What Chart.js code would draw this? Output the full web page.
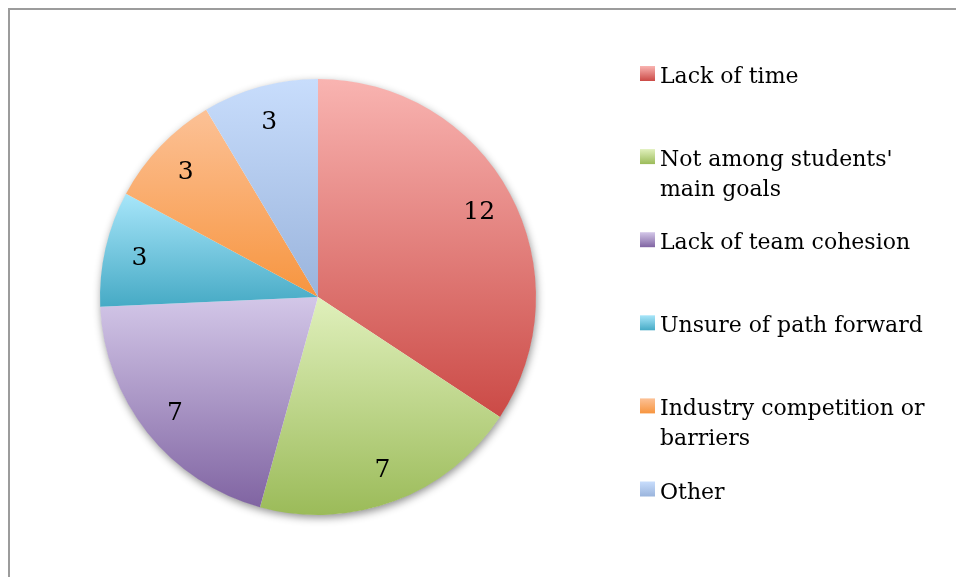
<!DOCTYPE html>
<html><head><meta charset="utf-8">
<script src="https://cdn.jsdelivr.net/npm/chart.js@4"></script>
<style>html,body{margin:0;padding:0;background:#fff}#wrap{position:relative;width:956px;height:577px}</style>
</head><body><div id="wrap"><canvas id="c"></canvas></div>
<script>
const categories = ['Lack of time', ["Not among students'", 'main goals'], 'Lack of team cohesion', 'Unsure of path forward', ['Industry competition or', 'barriers'], 'Other'];
const counts = [12, 7, 7, 3, 3, 3];
const topColors = ['#f9b4b1', '#e0f0bc', '#d3c7e8', '#a8e6fa', '#fcc196', '#c8ddfc'];
const bottomColors = ['#cb4a46', '#9bbb59', '#8064a2', '#46aac5', '#f7953f', '#9ab4dc'];

const FONT = '"DejaVu Serif", "Liberation Serif", serif';

function sliceGradient(ctx) {
  const chart = ctx.chart, area = chart.chartArea, i = ctx.dataIndex;
  if (!area || i === undefined) return bottomColors[i || 0];
  const data = chart.data.datasets[0].data;
  const total = data.reduce((a, b) => a + b, 0);
  let before = 0;
  for (let k = 0; k < i; k++) before += data[k];
  const a0 = -Math.PI / 2 + before / total * 2 * Math.PI;
  const a1 = a0 + data[i] / total * 2 * Math.PI;
  const cx = (area.left + area.right) / 2, cy = (area.top + area.bottom) / 2;
  const r = Math.min(area.right - area.left, area.bottom - area.top) / 2;
  const ys = [cy, cy + r * Math.sin(a0), cy + r * Math.sin(a1)];
  for (const ext of [-Math.PI / 2, Math.PI / 2, 3 * Math.PI / 2]) if (ext >= a0 && ext <= a1) ys.push(cy + r * Math.sin(ext));
  const y0 = Math.min(...ys), y1 = Math.max(...ys);
  const g = chart.ctx.createLinearGradient(0, y0, 0, y1);
  g.addColorStop(0, topColors[i]);
  g.addColorStop(1, bottomColors[i]);
  return g;
}

const framePlugin = {
  id: 'frame',
  beforeDraw(chart) {
    const c = chart.ctx;
    c.save();
    c.fillStyle = '#fff';
    c.fillRect(0, 0, chart.width, chart.height);
    c.strokeStyle = '#9c9c9c';
    c.lineWidth = 2;
    c.beginPath();
    c.moveTo(9, chart.height + 2);
    c.lineTo(9, 9);
    c.lineTo(chart.width + 2, 9);
    c.stroke();
    c.restore();
  }
};

const shadowPlugin = {
  id: 'pieShadow',
  beforeDatasetsDraw(chart) {
    const arc = chart.getDatasetMeta(0).data[0];
    if (!arc) return;
    const c = chart.ctx;
    c.save();
    c.shadowColor = 'rgba(0,0,0,0.45)';
    c.shadowBlur = 9;
    c.shadowOffsetX = 1;
    c.shadowOffsetY = 3;
    c.fillStyle = '#ffffff';
    c.beginPath();
    c.arc(arc.x, arc.y, arc.outerRadius - 0.5, 0, Math.PI * 2);
    c.fill();
    c.restore();
  }
};

const valueLabelPlugin = {
  id: 'valueLabels',
  afterDatasetsDraw(chart) {
    const c = chart.ctx;
    const meta = chart.getDatasetMeta(0);
    const data = chart.data.datasets[0].data;
    c.save();
    c.fillStyle = '#000';
    c.font = '25px ' + FONT;
    c.textAlign = 'center';
    c.textBaseline = 'middle';
    meta.data.forEach((arc, i) => {
      const mid = (arc.startAngle + arc.endAngle) / 2;
      const rr = arc.outerRadius * 0.84;
      c.fillText(String(data[i]), arc.x + rr * Math.cos(mid), arc.y + rr * Math.sin(mid) + 2);
    });
    c.restore();
  }
};

const legendPlugin = {
  id: 'sideLegend',
  afterDraw(chart) {
    const c = chart.ctx;
    c.save();
    c.font = '22px ' + FONT;
    c.fillStyle = '#000';
    c.textAlign = 'left';
    c.textBaseline = 'alphabetic';
    chart.data.labels.forEach((lab, i) => {
      const base = 83 + i * 83.1;
      const g = c.createLinearGradient(0, base - 17, 0, base - 2);
      g.addColorStop(0, topColors[i]);
      g.addColorStop(1, bottomColors[i]);
      c.fillStyle = g;
      c.fillRect(640, base - 17, 15, 15);
      c.fillStyle = '#000';
      const lines = Array.isArray(lab) ? lab : [lab];
      lines.forEach((ln, j) => c.fillText(ln, 660, base + j * 30));
    });
    c.restore();
  }
};

new Chart(document.getElementById('c'), {
  type: 'pie',
  data: {
    labels: categories,
    datasets: [{
      data: counts,
      backgroundColor: sliceGradient,
      borderWidth: 0,
      hoverOffset: 0,
      offset: 0
    }]
  },
  options: {
    responsive: true,
    maintainAspectRatio: false,
    animation: false,
    events: [],
    layout: { padding: { left: 100, right: 420, top: 79, bottom: 62 } },
    plugins: { legend: { display: false }, tooltip: { enabled: false } }
  },
  plugins: [framePlugin, shadowPlugin, valueLabelPlugin, legendPlugin]
});
</script>
</body></html>
